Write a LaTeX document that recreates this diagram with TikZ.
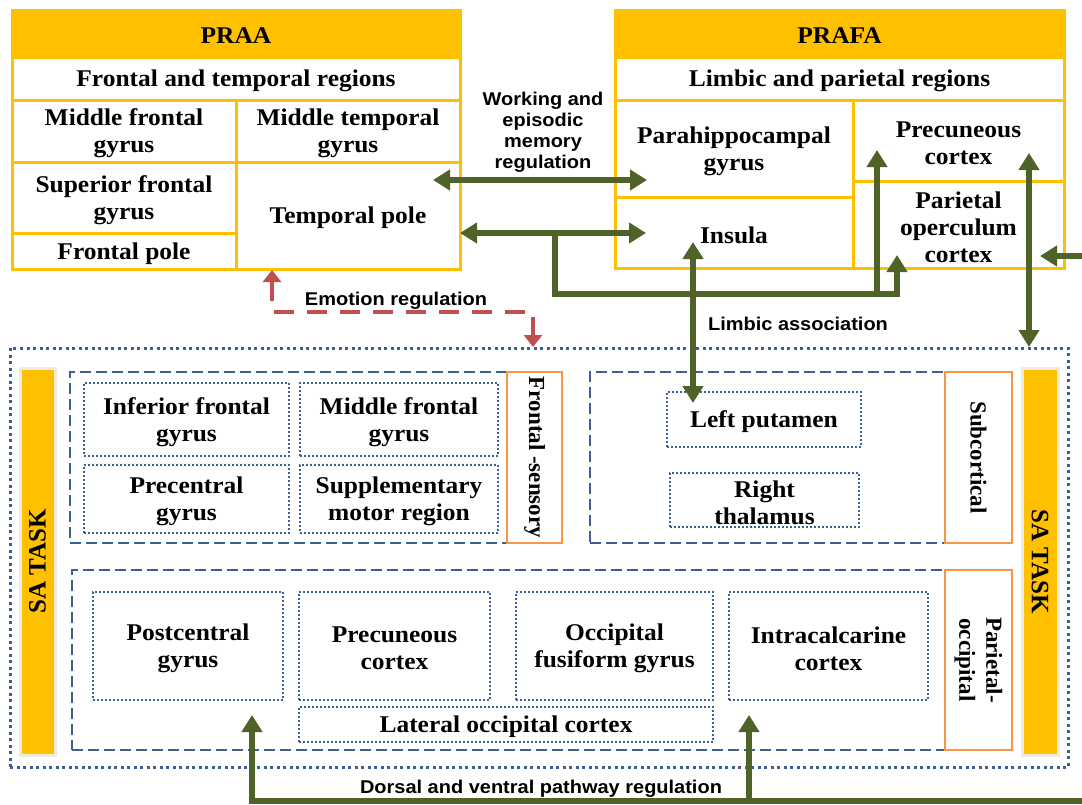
\documentclass[tikz,border=0pt]{standalone}
\usepackage{fontspec}
\setmainfont[FakeStretch=1.06]{Liberation Serif}
\newfontfamily\upserif{Liberation Serif}
\newfontfamily\labsans[FakeStretch=1.08]{Liberation Sans}
\usetikzlibrary{arrows.meta}
\definecolor{yel}{HTML}{FFC000}
\definecolor{grn}{HTML}{4F6228}
\definecolor{rd}{HTML}{C0504D}
\definecolor{blu}{HTML}{3C6096}
\definecolor{org}{HTML}{F79646}
\definecolor{beige}{HTML}{EEECE1}
\newcommand\boxfont{\bfseries\fontsize{24}{27}\selectfont}
\newcommand\upfont{\upserif\bfseries\fontsize{23}{27}\selectfont}
\newcommand\barfont{\upserif\bfseries\fontsize{25}{27}\selectfont}
\newcommand\labfont{\labsans\bfseries\fontsize{18.5}{21}\selectfont}
\tikzset{
  gtip/.tip={Triangle[length=17pt,width=20pt]},
  rtip/.tip={Triangle[length=12pt,width=18pt]}
}
% a box spanning (x1,y1)-(x2,y2) with its centred text: style, name, x1, y1, x2, y2, text
\newcommand\spannode[7]{%
  \pgfmathsetmacro\spx{(#3+#5)/2}%
  \pgfmathsetmacro\spy{(#4+#6)/2}%
  \pgfmathsetmacro\spw{#5-#3}%
  \pgfmathsetmacro\sph{#6-#4}%
  \node[#1,minimum width=\spw pt,minimum height=\sph pt] (#2) at (\spx,\spy) {};
  \node[boxtext] (#2-t) at ([yshift=-2.5pt]#2.center) {#7};}

\begin{document}
\begin{tikzpicture}[x=1pt,y=-1pt,
  boxtext/.style={inner sep=0pt,align=center,font=\boxfont},
  cell/.style={draw=yel,line width=3pt,fill=white,inner sep=0pt},
  head/.style={cell,fill=yel},
  region/.style={draw=blu,line width=1.8pt,dash pattern=on 2pt off 2pt,inner sep=0pt},
  group/.style={draw=blu,line width=2.5pt,dash pattern=on 11pt off 5pt,inner sep=0pt},
  outer/.style={draw=blu,line width=3pt,dash pattern=on 3pt off 3.5pt,inner sep=0pt},
  tag/.style={draw=org,line width=2.5pt,fill=white,inner sep=0pt,align=center,font=\upfont},
  bar/.style={draw=beige,line width=3pt,fill=yel,inner sep=0pt,font=\barfont},
  lab/.style={inner sep=0pt,align=center,font=\labfont},
  link/.style={draw=grn,line width=6pt,line join=miter,arrows={gtip-gtip}},
  feed/.style={draw=grn,line width=6pt,line join=miter,arrows={-gtip}},
  emo/.style={draw=rd,line width=4pt,dash pattern=on 20pt off 13pt,arrows={rtip-rtip}}
]
\useasboundingbox[fill=white] (0,0) rectangle (1082,804);

% ---------- PRAA ----------
\spannode{head}{praa}{12}{10}{460}{57}{PRAA}
\spannode{cell}{ftr}{12}{57}{460}{100}{Frontal and temporal regions}
\spannode{cell}{mfg}{12}{100}{236}{162}{Middle frontal\\gyrus}
\spannode{cell}{mtg}{236}{100}{460}{162}{Middle temporal\\gyrus}
\spannode{cell}{sfg}{12}{162}{236}{233}{Superior frontal\\gyrus}
\spannode{cell}{fpo}{12}{233}{236}{269}{Frontal pole}
\spannode{cell}{tp}{236}{162}{460}{269}{Temporal pole}

% ---------- PRAFA ----------
\spannode{head}{prafa}{615}{10}{1064}{57}{PRAFA}
\spannode{cell}{lpr}{615}{57}{1064}{100}{Limbic and parietal regions}
\spannode{cell}{phg}{615}{100}{853}{197}{Parahippocampal\\gyrus}
\spannode{cell}{ins}{615}{197}{853}{268}{Insula}
\spannode{cell}{pcc}{853}{100}{1064}{181}{Precuneous\\cortex}
\spannode{cell}{poc}{853}{181}{1064}{268}{Parietal\\operculum\\cortex}

% ---------- SA task ----------
\spannode{outer}{sa}{10}{348}{1068}{767}{}
\node[bar, rotate=90, minimum width=387pt, minimum height=35pt] (satl) at (37.5,561.5) {SA TASK};
\node[bar, rotate=-90, minimum width=387pt, minimum height=36pt] (satr) at (1040,561.5) {SA TASK};

% frontal-sensory group
\spannode{group}{gfs}{70}{372}{507}{543}{}
\spannode{region}{ifg}{84}{383}{289}{456}{Inferior frontal\\gyrus}
\spannode{region}{mfg2}{300}{383}{498}{456}{Middle frontal\\gyrus}
\spannode{region}{prg}{84}{465}{289}{533}{Precentral\\gyrus}
\spannode{region}{smr}{300}{465}{498}{533}{Supplementary\\motor region}
\node[tag, rotate=-90, minimum width=171pt, minimum height=55pt] (tfs) at (534.5,457.5) {Frontal -sensory};

% subcortical group
\spannode{group}{gsc}{590}{372}{945}{543}{}
\spannode{region}{lput}{667}{392}{861}{447}{Left putamen}
\spannode{region}{rth}{670}{473}{859}{527}{Right\\thalamus}
\node[tag, rotate=-90, minimum width=171pt, minimum height=67pt] (tsc) at (978.5,457.5) {Subcortical};

% parietal-occipital group
\spannode{group}{gpo}{72}{570}{945}{750}{}
\spannode{region}{pcg}{93}{592}{283}{700}{Postcentral\\gyrus}
\spannode{region}{prc}{299}{592}{490}{700}{Precuneous\\cortex}
\spannode{region}{ofg}{516}{592}{713}{700}{Occipital\\fusiform gyrus}
\spannode{region}{icc}{729}{592}{928}{700}{Intracalcarine\\cortex}
\spannode{region}{loc}{299}{707}{713}{742}{Lateral occipital cortex}
\node[tag, rotate=-90, minimum width=180pt, minimum height=67pt] (tpo) at (978.5,660) {Parietal-\\occipital};

% ---------- connector labels ----------
\node[lab, anchor=north] (wml) at (543,92) {Working and\\episodic\\memory\\regulation};
\node[lab] (eml) at (396,301) {Emotion regulation};
\node[lab] (lal) at (798,324) {Limbic association};
\node[lab] (dvl) at (541,789) {Dorsal and ventral pathway regulation};

% ---------- connectors ----------
\coordinate (wmL) at (433,180);
\coordinate (wmR) at (647,180);
\draw[link] (wmL) -- (wmR);

\coordinate (tpR) at (460,233);
\coordinate (insL) at (646,233);
\draw[link] (tpR) -- (insL);

\coordinate (br) at (555,233);
\coordinate (jn) at (897,294);
\coordinate (jm) at (877,294);
\coordinate (pocT) at (897,255);
\coordinate (pccT) at (877,150);
\draw[feed] (br) |- (jn) -- (pocT);
\draw[feed] (jm) -- (pccT);

\coordinate (insB) at (693,242);
\coordinate (lputT) at (693,403);
\draw[link] (insB) -- (lputT);

\coordinate (pccB) at (1029,153);
\coordinate (saT) at (1029,347);
\draw[link] (pccB) -- (saT);

\coordinate (edgeR) at (1084,256);
\coordinate (pocR) at (1040,256);
\draw[feed] (edgeR) -- (pocR);

\coordinate (edgeB) at (1084,801);
\coordinate (dv1) at (252,801);
\coordinate (dv2) at (749,801);
\coordinate (pcgB) at (252,715);
\coordinate (locB) at (749,715);
\draw[feed] (edgeB) -- (dv1) -- (pcgB);
\draw[feed] (dv2) -- (locB);

\coordinate (tpB) at (272,270);
\coordinate (saE) at (533,347);
\draw[emo] (tpB) |- (533,312) -- (saE);
\end{tikzpicture}
\end{document}
